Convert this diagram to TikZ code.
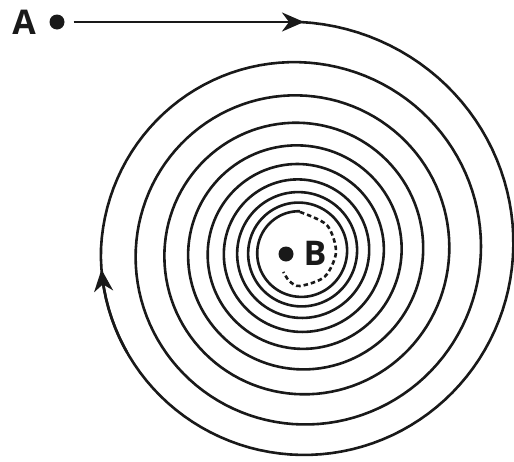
\documentclass[tikz,border=0pt]{standalone}
\usepackage{fontspec}
\setmainfont{Open Sans}
\usetikzlibrary{arrows.meta}
\begin{document}
\begin{tikzpicture}[x=1pt,y=-1pt,
  curve/.style={line width=2.6pt, draw=black!90},
  tipped/.style={-{Stealth[length=22pt,width=19pt,inset=7pt]}},
  dotnode/.style={circle, fill=black!90, inner sep=0pt, minimum size=15pt},
  lbl/.style={font=\fontsize{34}{34}\selectfont\bfseries, text=black!90, inner sep=0pt},
  dashline/.style={dash pattern=on 4.5pt off 3pt},
  declare function={rr(\t)=230*exp(-0.000541*\t)-(\t<270)*7*sin(\t*2/3);}]
\useasboundingbox (0,0) rectangle (514,461);
\clip (0,0) rectangle (514,461);
\fill[white] (0,0) rectangle (514,461);
% labels and dots
\node[lbl] (Alab) at (24,22) {A};
\node[dotnode] (A) at (57,22) {};
\node[dotnode] (B) at (286,254) {};
\node[lbl] (Blab) at (315,253) {B};
\coordinate (S) at (304,22);
% straight entry line
\draw[curve, tipped, shorten <=9pt] (A) -- (S);
% spiral
\draw[curve] plot[domain=0:3240, samples=1100] ({300+rr(\x)*sin(\x)}, {252-rr(\x)*cos(\x)});
% arrow on the left side
\draw[curve, tipped] plot[domain=240:265, samples=14] ({300+rr(\x)*sin(\x)}, {252-rr(\x)*cos(\x)});
% dashed end near B
\draw[curve, dashline] plot[smooth] coordinates {(300,212) (326.9,225.1) (336,252) (324.7,276.7) (300,286) (289.4,281.1) (283.3,271.9)};
\end{tikzpicture}
\end{document}
